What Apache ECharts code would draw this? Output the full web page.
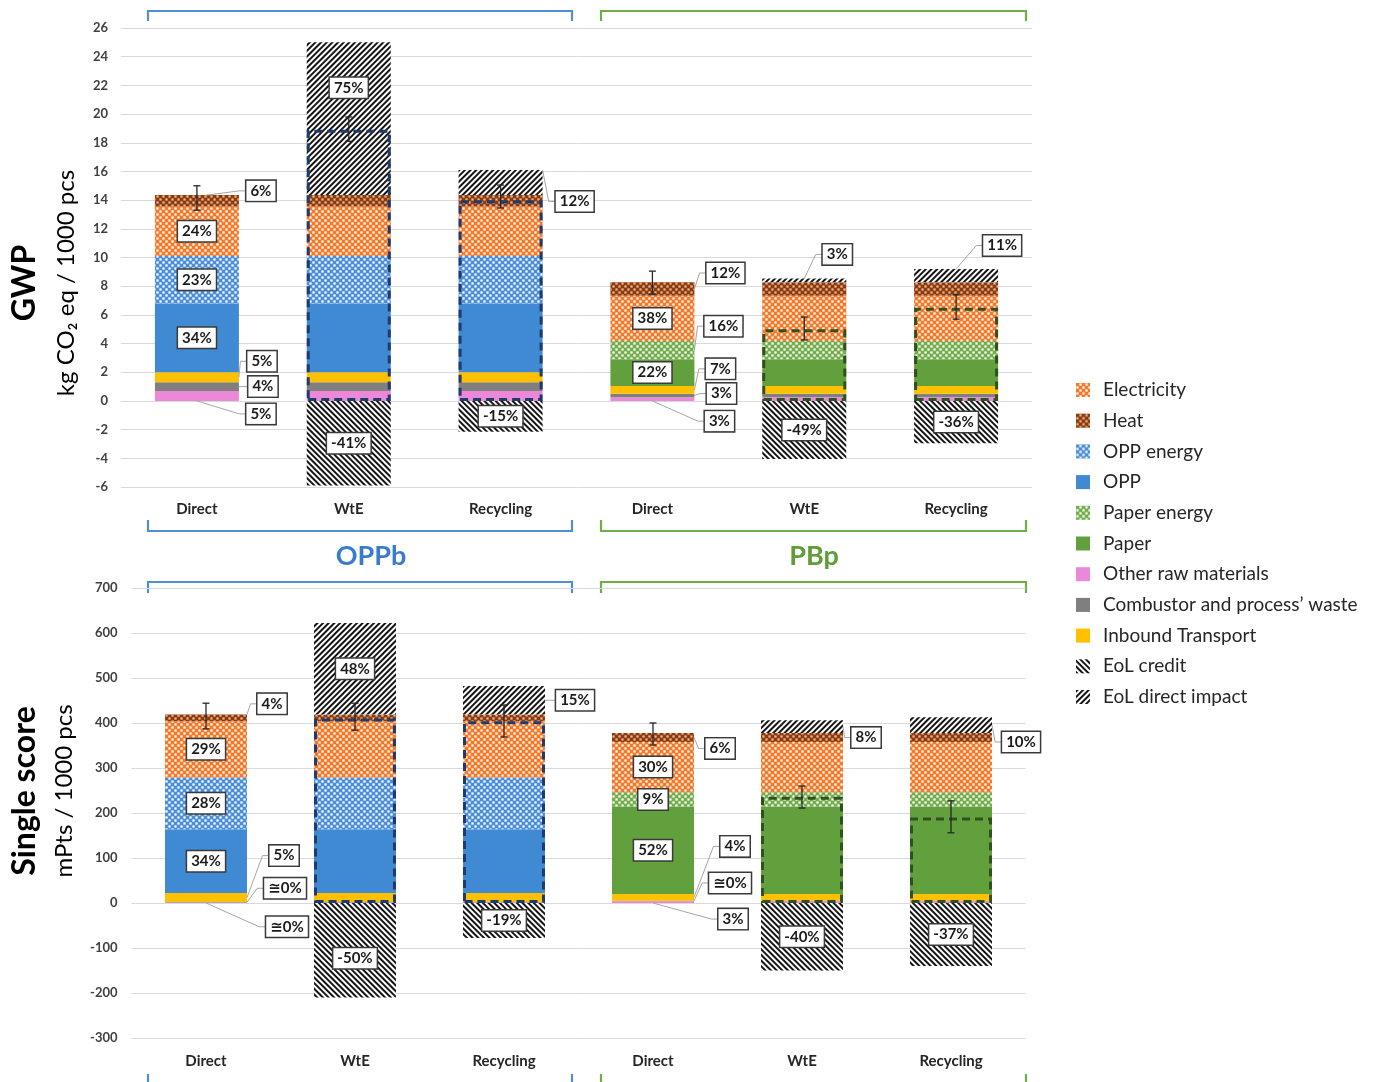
<!DOCTYPE html>
<html>
<head>
<meta charset="utf-8">
<title>GWP and single score of OPPb and PBp</title>
<script src="https://cdn.jsdelivr.net/npm/echarts@6/dist/echarts.min.js"></script>
<style>
  html, body { margin: 0; padding: 0; background: #ffffff; }
  #chart { width: 1379px; height: 1082px; }
</style>
</head>
<body>
<div id="chart"></div>
<script>
// ---------------- data ----------------
const categories = ['Direct', 'WtE', 'Recycling', 'Direct', 'WtE', 'Recycling'];

// GWP, kg CO2 eq / 1000 pcs (OPPb: first three, PBp: last three)
const gwpOtherRaw    = [0.7, 0.7, 0.7, 0.25, 0.25, 0.25];
const gwpCombustor   = [0.6, 0.6, 0.6, 0.25, 0.25, 0.25];
const gwpTransport   = [0.7, 0.7, 0.7, 0.55, 0.55, 0.55];
const gwpOpp         = [4.8, 4.8, 4.8, 0, 0, 0];
const gwpPaper       = [0, 0, 0, 1.85, 1.85, 1.85];
const gwpOppEnergy   = [3.3, 3.3, 3.3, 0, 0, 0];
const gwpPaperEnergy = [0, 0, 0, 1.28, 1.28, 1.28];
const gwpElectricity = [3.45, 3.45, 3.45, 3.15, 3.15, 3.15];
const gwpHeat        = [0.8, 0.8, 0.8, 0.95, 0.95, 0.95];
const gwpEolDirect   = [0, 10.65, 1.75, 0, 0.25, 0.92];
const gwpEolCredit   = [0, -5.9, -2.15, 0, -4.05, -2.95];
const gwpNet         = [null, 18.9, 14.0, null, 5.0, 6.5];
const gwpErrLow      = [13.3, 18.1, 13.45, 7.45, 4.25, 5.7];
const gwpErrHigh     = [15.0, 19.8, 15.05, 9.05, 5.85, 7.4];

// Single score, mPts / 1000 pcs
const ssOtherRaw    = [1, 1, 1, 4, 4, 4];
const ssCombustor   = [1, 1, 1, 1, 1, 1];
const ssTransport   = [20, 20, 20, 15, 15, 15];
const ssOpp         = [142, 142, 142, 0, 0, 0];
const ssPaper       = [0, 0, 0, 194, 194, 194];
const ssOppEnergy   = [115, 115, 115, 0, 0, 0];
const ssPaperEnergy = [0, 0, 0, 32, 32, 32];
const ssElectricity = [125, 125, 125, 112, 112, 112];
const ssHeat        = [15, 15, 15, 20, 20, 20];
const ssEolDirect   = [0, 203, 63, 0, 28, 35];
const ssEolCredit   = [0, -210, -78, 0, -150, -140];
const ssNet         = [null, 410, 404, null, 236, 190];
const ssErrLow      = [387, 384, 369, 351, 211, 156];
const ssErrHigh     = [444, 444, 440, 400, 260, 227];

// contribution shares written on the bars: [segment, category index, text]
const gwpShareLabels = [
  ['heat', 0, '6%'], ['elec', 0, '24%'], ['oppE', 0, '23%'], ['opp', 0, '34%'],
  ['trans', 0, '5%'], ['comb', 0, '4%'], ['raw', 0, '5%'],
  ['eolD', 1, '75%'], ['eolC', 1, '-41%'],
  ['eolD', 2, '12%'], ['eolC', 2, '-15%'],
  ['heat', 3, '12%'], ['elec', 3, '38%'], ['paperE', 3, '16%'], ['paper', 3, '22%'],
  ['trans', 3, '7%'], ['comb', 3, '3%'], ['raw', 3, '3%'],
  ['eolD', 4, '3%'], ['eolC', 4, '-49%'],
  ['eolD', 5, '11%'], ['eolC', 5, '-36%']
];
const ssShareLabels = [
  ['heat', 0, '4%'], ['elec', 0, '29%'], ['oppE', 0, '28%'], ['opp', 0, '34%'],
  ['trans', 0, '5%'], ['comb', 0, '≅0%'], ['raw', 0, '≅0%'],
  ['eolD', 1, '48%'], ['eolC', 1, '-50%'],
  ['eolD', 2, '15%'], ['eolC', 2, '-19%'],
  ['heat', 3, '6%'], ['elec', 3, '30%'], ['paperE', 3, '9%'], ['paper', 3, '52%'],
  ['trans', 3, '4%'], ['comb', 3, '≅0%'], ['raw', 3, '3%'],
  ['eolD', 4, '8%'], ['eolC', 4, '-40%'],
  ['eolD', 5, '10%'], ['eolC', 5, '-37%']
];

const legendOrder = ['Electricity', 'Heat', 'OPP energy', 'OPP', 'Paper energy', 'Paper',
  'Other raw materials', 'Combustor and process’ waste', 'Inbound Transport', 'EoL credit', 'EoL direct impact'];

// ---------------- styling ----------------
const FONT = 'Lato, "DejaVu Sans", sans-serif';
const LABEL_FONT = 'bold 15px ' + FONT;
const NAVY = '#1f3b6e';
const DARK_GREEN = '#30501f';

const stackKeys = ['raw', 'comb', 'trans', 'opp', 'paper', 'oppE', 'paperE', 'elec', 'heat', 'eolD', 'eolC'];
const segNames = {
  raw: 'Other raw materials', comb: 'Combustor and process’ waste', trans: 'Inbound Transport',
  opp: 'OPP', paper: 'Paper', oppE: 'OPP energy', paperE: 'Paper energy',
  elec: 'Electricity', heat: 'Heat', eolD: 'EoL direct impact', eolC: 'EoL credit'
};

const checker = (base, dot) => ({
  color: base,
  decal: { symbol: 'rect', symbolSize: 0.75, color: dot, dashArrayX: [[3, 3], [0, 3, 3, 0]], dashArrayY: [3, 0] }
});
const hatch = (rot) => ({
  color: '#ffffff',
  decal: { symbol: 'rect', symbolSize: 1, color: '#151515', dashArrayX: [1, 0], dashArrayY: [2, 2], rotation: rot }
});
const segStyle = {
  raw: { color: '#ec88d8' },
  comb: { color: '#7f7f7f' },
  trans: { color: '#ffc000' },
  opp: { color: '#3f8ad2' },
  paper: { color: '#62a03e' },
  oppE: checker('#4b8fd8', '#ffffff'),
  paperE: checker('#74ad4c', '#ffffff'),
  elec: checker('#f47a2a', '#ffffff'),
  heat: checker('#8b3b10', '#f3b78e'),
  eolD: hatch(-Math.PI / 4),
  eolC: hatch(Math.PI / 4)
};

// where the share boxes sit (pixels): bx/by = box centre from bar centre / segment middle,
// ax/ay = where the leader line leaves the bar; dy = shift of an in-bar box
const gwpPlacement = {
  'heat@0': { bx: 64, by: -10, ax: 10, ay: 'top' },
  'trans@0': { bx: 65, by: -16, ax: 42 },
  'comb@0': { bx: 66, by: 0, ax: 42 },
  'raw@0': { bx: 64, by: 18, ax: 0, ay: 'bottom' },
  'eolD@1': { dy: -31 },
  'eolD@2': { bx: 74, by: 19, ax: 42, ay: 'top' },
  'heat@3': { bx: 73, by: -16, ax: 42 },
  'paperE@3': { bx: 71, by: -24, ax: 42 },
  'trans@3': { bx: 68, by: -21, ax: 42 },
  'comb@3': { bx: 69, by: -2, ax: 42 },
  'raw@3': { bx: 67, by: 22, ax: 0, ay: 'bottom' },
  'eolD@4': { bx: 33, by: -26, ax: 0, ay: 'top' },
  'eolD@5': { bx: 46, by: -30, ax: 0, ay: 'top' }
};
const ssPlacement = {
  'heat@0': { bx: 66, by: -14, ax: 41, ay: 'top' },
  'trans@0': { bx: 78, by: -42, ax: 41 },
  'comb@0': { bx: 79, by: -14, ax: 41 },
  'raw@0': { bx: 81, by: 24, ax: 0, ay: 'bottom' },
  'eolC@1': { dy: 8 },
  'eolD@2': { bx: 71, by: 0, ax: 41 },
  'heat@3': { bx: 67, by: 11, ax: 41 },
  'trans@3': { bx: 82, by: -51, ax: 41 },
  'comb@3': { bx: 77, by: -18, ax: 41 },
  'raw@3': { bx: 80, by: 17, ax: 0, ay: 'bottom' },
  'eolD@4': { bx: 64, by: 11, ax: 41 },
  'eolD@5': { bx: 70, by: 17, ax: 41 }
};

// ---------------- helpers ----------------
const gwpValues = {
  raw: gwpOtherRaw, comb: gwpCombustor, trans: gwpTransport, opp: gwpOpp, paper: gwpPaper,
  oppE: gwpOppEnergy, paperE: gwpPaperEnergy, elec: gwpElectricity, heat: gwpHeat,
  eolD: gwpEolDirect, eolC: gwpEolCredit
};
const ssValues = {
  raw: ssOtherRaw, comb: ssCombustor, trans: ssTransport, opp: ssOpp, paper: ssPaper,
  oppE: ssOppEnergy, paperE: ssPaperEnergy, elec: ssElectricity, heat: ssHeat,
  eolD: ssEolDirect, eolC: ssEolCredit
};

const measureCtx = document.createElement('canvas').getContext('2d');
function textWidth(text, font) { measureCtx.font = font; return measureCtx.measureText(text).width; }

function segBounds(values, key, cat) {
  const v = values[key][cat];
  if (v < 0) return [v, 0];
  let base = 0;
  for (const k of stackKeys) {
    if (k === key) break;
    const w = values[k][cat];
    if (w > 0) base += w;
  }
  return [base, base + v];
}

function barSeries(values, axis, stackName, barWidth) {
  return stackKeys.map(k => ({
    name: segNames[k], type: 'bar', xAxisIndex: axis, yAxisIndex: axis,
    stack: stackName, barWidth: barWidth, itemStyle: segStyle[k], data: values[k],
    emphasis: { disabled: true }
  }));
}

function netSeries(net, axis, barWidth) {
  return {
    name: 'Net', type: 'bar', xAxisIndex: axis, yAxisIndex: axis, barWidth: barWidth, barGap: '-100%', z: 3,
    itemStyle: { color: 'rgba(0,0,0,0)', borderWidth: 3, borderType: [8, 5] },
    emphasis: { disabled: true },
    data: net.map((v, i) => v === null ? '-' : { value: v, itemStyle: { borderColor: i < 3 ? NAVY : DARK_GREEN } })
  };
}

function errorSeries(low, high, axis) {
  return {
    name: 'Uncertainty', type: 'custom', xAxisIndex: axis, yAxisIndex: axis, z: 6, silent: true,
    data: low.map((v, i) => [i, v, high[i]]),
    renderItem: function (params, api) {
      const x = api.value(0);
      const a = api.coord([x, api.value(1)]);
      const b = api.coord([x, api.value(2)]);
      const cap = 3.5;
      const st = { stroke: '#262626', lineWidth: 1.3 };
      return { type: 'group', children: [
        { type: 'line', shape: { x1: a[0], y1: a[1], x2: b[0], y2: b[1] }, style: st },
        { type: 'line', shape: { x1: a[0] - cap, y1: a[1], x2: a[0] + cap, y2: a[1] }, style: st },
        { type: 'line', shape: { x1: b[0] - cap, y1: b[1], x2: b[0] + cap, y2: b[1] }, style: st }
      ] };
    }
  };
}

function shareSeries(values, shares, placement, axis) {
  const entries = shares.map(([key, cat, text]) => {
    const b = segBounds(values, key, cat);
    return { cat: cat, lo: b[0], hi: b[1], text: text, place: placement[key + '@' + cat] || {} };
  });
  return {
    name: 'Shares', type: 'custom', xAxisIndex: axis, yAxisIndex: axis, z: 10, silent: true,
    data: entries.map(e => [e.cat, e.lo, e.hi]),
    renderItem: function (params, api) {
      const e = entries[params.dataIndex];
      const p0 = api.coord([e.cat, e.lo]);
      const p1 = api.coord([e.cat, e.hi]);
      const cx = p0[0];
      const yTop = Math.min(p0[1], p1[1]);
      const yBot = Math.max(p0[1], p1[1]);
      const yMid = (yTop + yBot) / 2;
      const pl = e.place;
      const style = {
        text: e.text, font: LABEL_FONT, fill: '#1b1b1b', align: 'center', verticalAlign: 'middle',
        backgroundColor: '#ffffff', borderColor: '#3a3a3a', borderWidth: 1.5, padding: [3, 4, 2, 4]
      };
      if (pl.bx === undefined) {
        return { type: 'text', x: cx, y: yMid + (pl.dy || 0), style: style };
      }
      const tx = cx + pl.bx;
      const ty = yMid + pl.by;
      const ax = cx + pl.ax;
      const ay = pl.ay === 'top' ? yTop : (pl.ay === 'bottom' ? yBot : yMid);
      const left = tx - textWidth(e.text, LABEL_FONT) / 2 - 5;
      return { type: 'group', children: [
        { type: 'polyline', shape: { points: [[ax, ay], [left - 6, ty], [left, ty]] },
          style: { stroke: '#a6a6a6', lineWidth: 1, fill: null } },
        { type: 'text', x: tx, y: ty, style: style }
      ] };
    }
  };
}

function bracket(points, color) {
  return { type: 'polyline', silent: true, shape: { points: points },
    style: { stroke: color, lineWidth: 2.2, fill: null } };
}

const BLUE_LINE = '#4f8fd2';
const GREEN_LINE = '#70ad47';

// ---------------- chart ----------------
const chart = echarts.init(document.getElementById('chart'), null, { renderer: 'canvas' });

const xAxisBase = (grid, margin) => ({
  type: 'category', gridIndex: grid, data: categories,
  axisLine: { show: false }, axisTick: { show: false },
  axisLabel: { margin: margin, fontFamily: FONT, fontSize: 15, fontWeight: 'bold', color: '#262626' }
});
const yAxisBase = (grid, min, max, interval, margin) => ({
  type: 'value', gridIndex: grid, min: min, max: max, interval: interval,
  axisLine: { show: false }, axisTick: { show: false },
  axisLabel: { margin: margin, fontFamily: FONT, fontSize: 13, fontWeight: 'bold', color: '#404040' },
  splitLine: { lineStyle: { color: '#d9d9d9', width: 1 } }
});

chart.setOption({
  animation: false,
  backgroundColor: '#ffffff',
  grid: [
    { left: 121, top: 28, width: 911, height: 459 },
    { left: 131.5, top: 588, width: 894, height: 450 }
  ],
  xAxis: [xAxisBase(0, 15), xAxisBase(1, 16)],
  yAxis: [yAxisBase(0, -6, 26, 2, 13), yAxisBase(1, -300, 700, 100, 14)],
  legend: {
    orient: 'vertical', left: 1071, top: 375, itemWidth: 14, itemHeight: 14, itemGap: 10.7,
    icon: 'rect', selectedMode: false, data: legendOrder,
    textStyle: { fontFamily: FONT, fontSize: 19, color: '#262626', lineHeight: 20, padding: [0, 0, 0, 8] }
  },
  graphic: [
    { type: 'text', x: 25, y: 283, rotation: Math.PI / 2, silent: true,
      style: { text: 'GWP', font: 'bold 32px ' + FONT, fill: '#000000', align: 'center', verticalAlign: 'middle' } },
    { type: 'text', x: 66, y: 283, rotation: Math.PI / 2, silent: true,
      style: { text: 'kg CO₂ eq / 1000 pcs', font: '24px ' + FONT, fill: '#000000', align: 'center', verticalAlign: 'middle' } },
    { type: 'text', x: 25, y: 791, rotation: Math.PI / 2, silent: true,
      style: { text: 'Single score', font: 'bold 32px ' + FONT, fill: '#000000', align: 'center', verticalAlign: 'middle' } },
    { type: 'text', x: 64, y: 791, rotation: Math.PI / 2, silent: true,
      style: { text: 'mPts / 1000 pcs', font: '24px ' + FONT, fill: '#000000', align: 'center', verticalAlign: 'middle' } },
    { type: 'text', x: 371, y: 556, silent: true,
      style: { text: 'OPPb', font: 'bold 27px ' + FONT, fill: '#3a7ccc', align: 'center', verticalAlign: 'middle' } },
    { type: 'text', x: 814, y: 556, silent: true,
      style: { text: 'PBp', font: 'bold 27px ' + FONT, fill: '#5f9d38', align: 'center', verticalAlign: 'middle' } },
    bracket([[148, 21], [148, 11], [572, 11], [572, 21]], BLUE_LINE),
    bracket([[601, 21], [601, 11], [1026, 11], [1026, 21]], GREEN_LINE),
    bracket([[148, 520], [148, 531], [572, 531], [572, 520]], BLUE_LINE),
    bracket([[601, 520], [601, 531], [1026, 531], [1026, 520]], GREEN_LINE),
    bracket([[148, 593], [148, 582], [572, 582], [572, 593]], BLUE_LINE),
    bracket([[601, 593], [601, 582], [1026, 582], [1026, 593]], GREEN_LINE),
    bracket([[148, 1074], [148, 1088], [572, 1088], [572, 1074]], BLUE_LINE),
    bracket([[601, 1074], [601, 1088], [1026, 1088], [1026, 1074]], GREEN_LINE)
  ],
  series: [].concat(
    barSeries(gwpValues, 0, 'gwp', 84),
    [netSeries(gwpNet, 0, 84), errorSeries(gwpErrLow, gwpErrHigh, 0), shareSeries(gwpValues, gwpShareLabels, gwpPlacement, 0)],
    barSeries(ssValues, 1, 'ss', 82),
    [netSeries(ssNet, 1, 82), errorSeries(ssErrLow, ssErrHigh, 1), shareSeries(ssValues, ssShareLabels, ssPlacement, 1)]
  )
});
</script>
</body>
</html>
